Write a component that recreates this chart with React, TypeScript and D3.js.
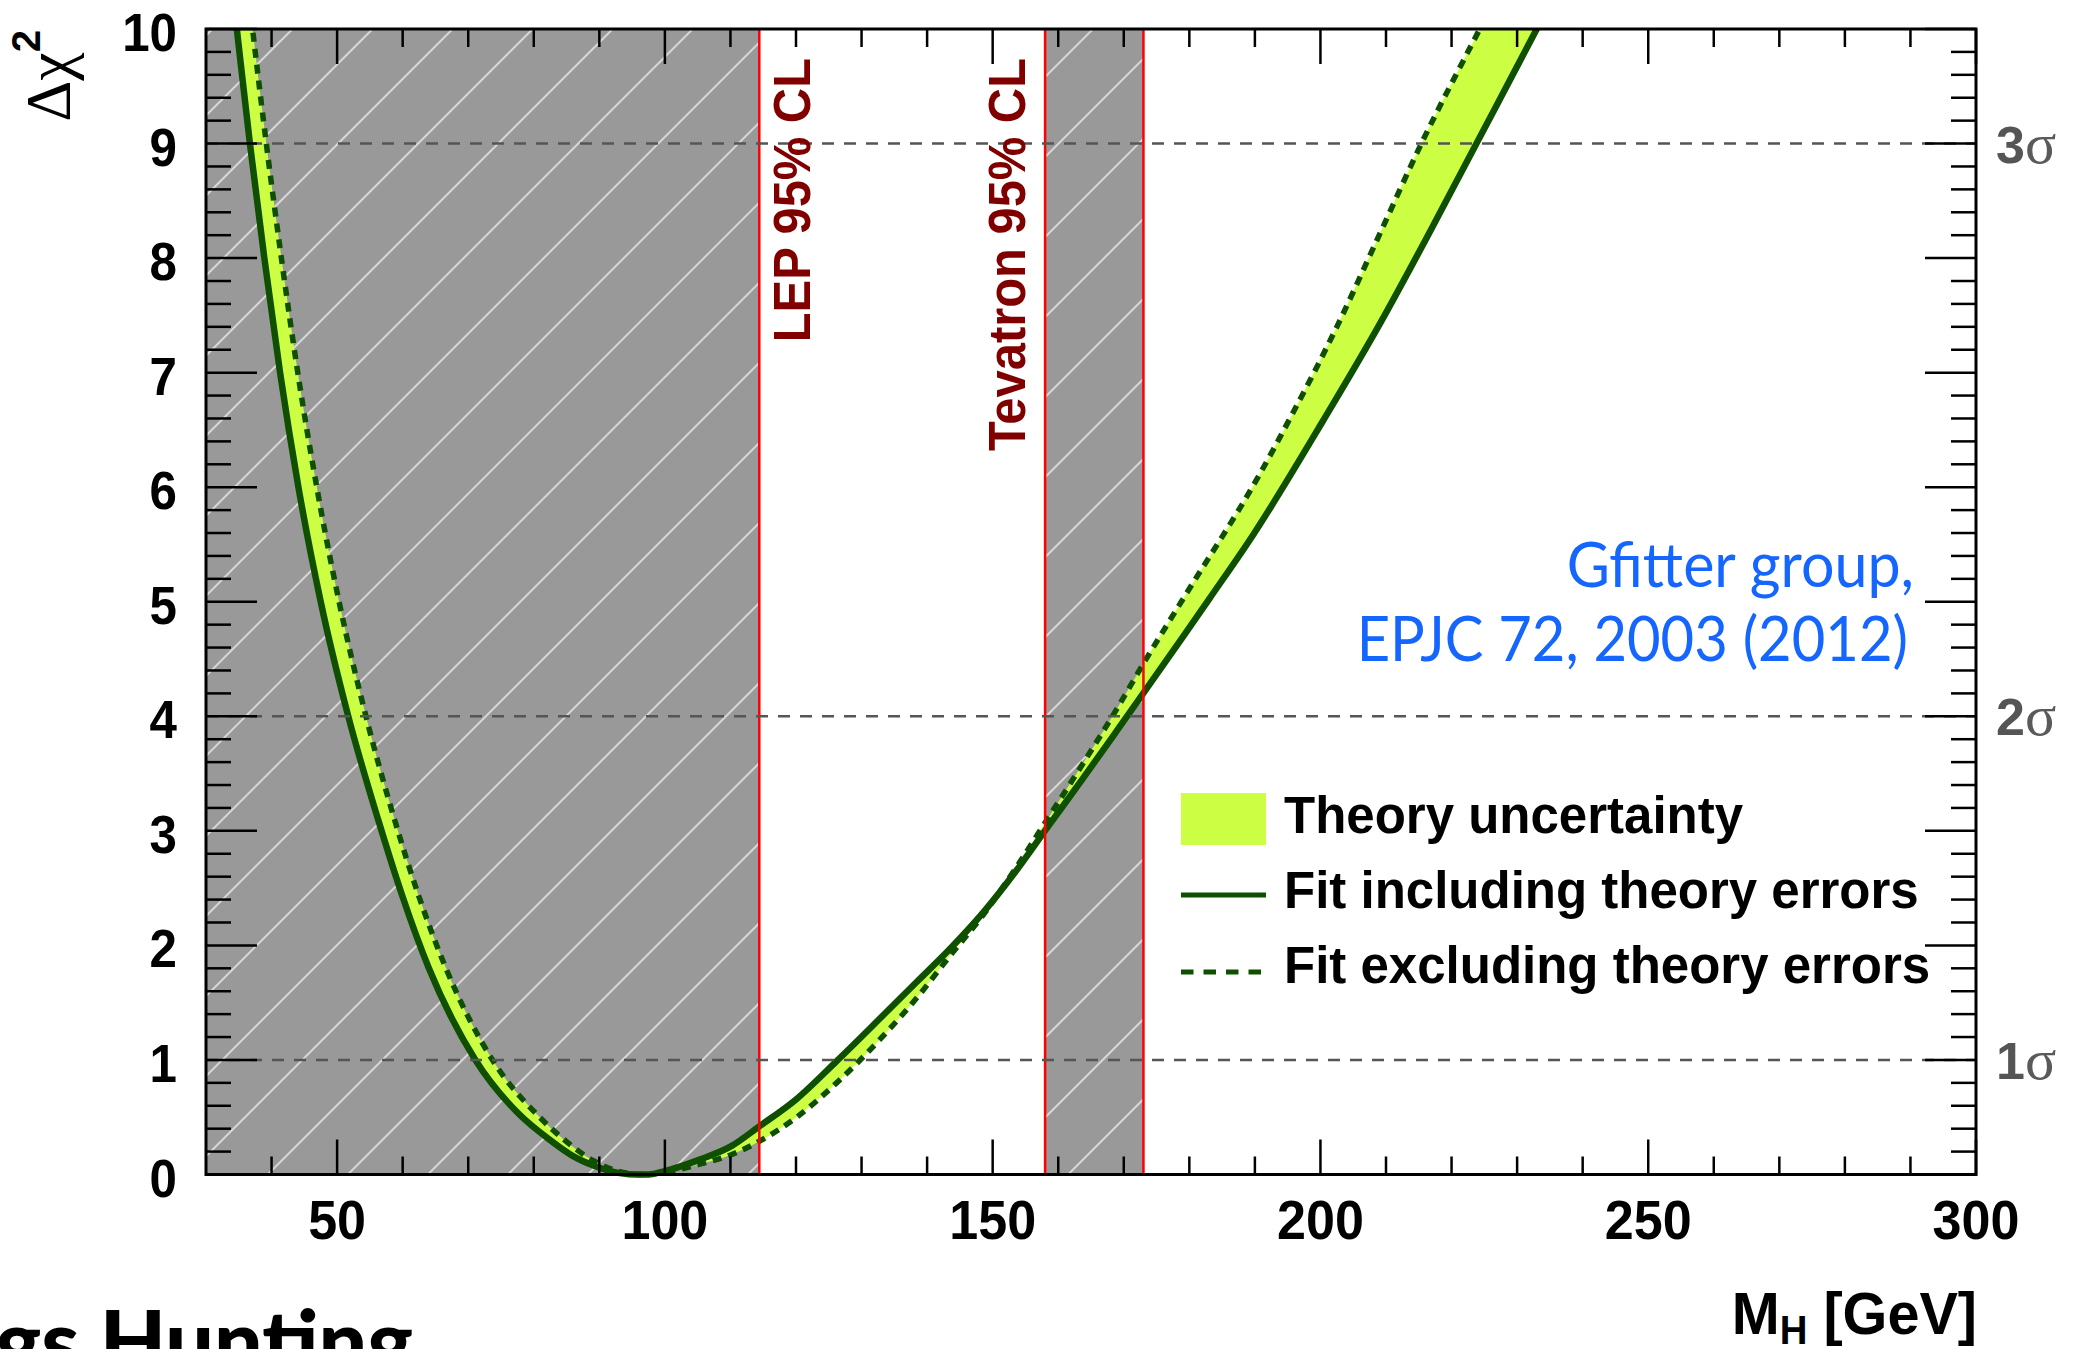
import React from 'react';
import * as d3 from 'd3';

const W = 2074;
const H = 1349;
const PLOT = { left: 206, right: 1976, top: 29, bottom: 1174.5 };

const massDomain: [number, number] = [30, 300];
const chi2Domain: [number, number] = [0, 10];
const xMajorTicks = [50, 100, 150, 200, 250, 300];
const xMinorStep = 10;
const yMajorTicks = [0, 1, 2, 3, 4, 5, 6, 7, 8, 9, 10];
const yMinorStep = 0.2;
const sigmaChi2 = [1, 4, 9];
const sigmaLabels = ['1', '2', '3'];
const lepLimit = 114.4;
const tevatronExcl: [number, number] = [158, 173];

// Fit including theory errors (solid)
const fitInclMH = [33.0, 34.7, 36.7, 38.9, 41.3, 44.1, 47.5, 51.7, 56.3, 59.9, 64.0, 71.1, 77.7, 82.5, 86.0, 89.0, 92.0, 94.5, 97.5, 100.0, 105.3, 110.2, 114.4, 120.1, 126.2, 133.3, 138.4, 143.5, 148.6, 153.7, 158.1, 163.8, 168.9, 173.1, 179.1, 183.1, 189.8, 200.4, 209.1, 216.7, 223.8, 233.0, 236.0];
const fitInclChi2 = [10.85, 10, 9, 8, 7, 6, 5, 4, 3.09, 2.44, 1.80, 1.0, 0.53, 0.30, 0.16, 0.08, 0.025, 0.003, 0.0, 0.03, 0.13, 0.25, 0.42, 0.66, 0.99, 1.39, 1.68, 1.97, 2.29, 2.66, 3.01, 3.46, 3.87, 4.21, 4.70, 5.03, 5.59, 6.58, 7.43, 8.23, 9.0, 10.0, 10.33];

// Fit excluding theory errors (dotted)
const fitExclMH = [35.5, 37.1, 39.2, 41.5, 44.0, 46.9, 50.3, 54.4, 58.8, 62.4, 66.6, 73.7, 80.9, 84.5, 89.1, 92.5, 96.5, 100.1, 105.3, 110.2, 114.4, 120.1, 126.2, 133.3, 138.4, 143.5, 148.6, 153.7, 158.1, 163.8, 168.9, 173.1, 179.1, 190.8, 195.35, 202.5, 208.8, 215.4, 224.3, 227.0];
const fitExclChi2 = [10.8, 10, 9, 8, 7, 6, 5, 4, 3.09, 2.44, 1.80, 1.0, 0.50, 0.31, 0.12, 0.035, 0.0, 0.02, 0.09, 0.175, 0.29, 0.50, 0.80, 1.21, 1.54, 1.91, 2.27, 2.69, 3.08, 3.59, 4.06, 4.47, 5.03, 6.12, 6.60, 7.40, 8.18, 9.0, 10.0, 10.3];

const legendLabels = ['Theory uncertainty', 'Fit including theory errors', 'Fit excluding theory errors'];
const creditLines = ['Gfitter group,', 'EPJC 72, 2003 (2012)'];

const SANS = '"Liberation Sans", Arial, Helvetica, sans-serif';
const SERIF = '"Liberation Serif", "Times New Roman", serif';
const HUMAN = 'Lato, "Open Sans", sans-serif';
const GREEN = '#0f4f00';
const LIME = '#ccff44';
const GREY = '#999999';
const DASH = '9,7';

export default function App() {
  const x = d3.scaleLinear().domain(massDomain).range([PLOT.left, PLOT.right]);
  const y = d3.scaleLinear().domain(chi2Domain).range([PLOT.bottom, PLOT.top]);

  const incl: [number, number][] = fitInclMH.map((m, i) => [m, fitInclChi2[i]]);
  const excl: [number, number][] = fitExclMH.map((m, i) => [m, fitExclChi2[i]]);

  const line = d3
    .line<[number, number]>()
    .x((d) => x(d[0]))
    .y((d) => y(d[1]))
    .curve(d3.curveMonotoneX);

  const inclPath = line(incl) || '';
  const exclPath = line(excl) || '';
  const exclRev = (line(excl.slice().reverse()) || '').replace(/^M/, 'L');
  const bandPath = inclPath + exclRev + 'Z';

  const xMinor = d3.range(massDomain[0] + xMinorStep, massDomain[1], xMinorStep).filter((v) => !xMajorTicks.includes(v));
  const yMinor = d3.range(0, 10.0001, yMinorStep).filter((v) => Math.abs(v - Math.round(v)) > 1e-6);

  const pw = PLOT.right - PLOT.left;
  const ph = PLOT.bottom - PLOT.top;

  const xMajLen = 35;
  const xMinLen = 18;
  const yMajLen = 51;
  const yMinLen = 25;

  const legX = 1181;
  const legW = 85;
  const legTextX = 1284;
  const legBase = [833, 908, 983];
  const hatchGap = 56.6;

  return (
    <svg
      width={W}
      height={H}
      style={{ position: 'absolute', left: 0, top: 0, background: '#fff' }}
      xmlns="http://www.w3.org/2000/svg"
    >
      <defs>
        <clipPath id="plotClip">
          <rect x={PLOT.left} y={PLOT.top} width={pw} height={ph + 4} />
        </clipPath>
        <pattern id="hatch" patternUnits="userSpaceOnUse" width={hatchGap} height={hatchGap} patternTransform="rotate(45)">
          <rect x={0} y={0} width={hatchGap} height={hatchGap} fill={GREY} />
          <line x1={1} y1={0} x2={1} y2={hatchGap} stroke="#d8d8d8" strokeWidth={2} />
        </pattern>
      </defs>

      {/* excluded regions */}
      <rect x={x(massDomain[0])} y={PLOT.top} width={x(lepLimit) - x(massDomain[0])} height={ph} fill="url(#hatch)" />
      <rect x={x(tevatronExcl[0])} y={PLOT.top} width={x(tevatronExcl[1]) - x(tevatronExcl[0])} height={ph} fill="url(#hatch)" />

      {/* band and curves */}
      <g clipPath="url(#plotClip)">
        <path d={bandPath} fill={LIME} stroke="none" />
        <path d={exclPath} fill="none" stroke={GREEN} strokeWidth={5.5} strokeDasharray={DASH} />
        <path d={inclPath} fill="none" stroke={GREEN} strokeWidth={6.5} />
      </g>

      {/* red limit lines */}
      {[lepLimit, tevatronExcl[0], tevatronExcl[1]].map((m, i) => (
        <line key={'r' + i} x1={x(m)} x2={x(m)} y1={PLOT.top} y2={PLOT.bottom} stroke="#ff0000" strokeWidth={2.5} />
      ))}

      {/* sigma dashed lines */}
      {sigmaChi2.map((c, i) => (
        <g key={'s' + i}>
          <line x1={PLOT.left} x2={PLOT.right} y1={y(c)} y2={y(c)} stroke="#555" strokeWidth={2.5} strokeDasharray="12,10" />
          <text x={1996} y={y(c) + 19} fill="#555">
            <tspan fontFamily={SANS} fontWeight="bold" fontSize={52}>{sigmaLabels[i]}</tspan>
            <tspan fontFamily={SERIF} fontSize={58} fill="#5a5a5a">σ</tspan>
          </text>
        </g>
      ))}

      {/* frame */}
      <rect x={PLOT.left} y={PLOT.top} width={pw} height={ph} fill="none" stroke="#000" strokeWidth={3} />

      {/* ticks */}
      <g stroke="#000" strokeWidth={2.5}>
        {xMajorTicks.map((v) => (
          <g key={'xm' + v}>
            <line x1={x(v)} x2={x(v)} y1={PLOT.bottom} y2={PLOT.bottom - xMajLen} />
            <line x1={x(v)} x2={x(v)} y1={PLOT.top} y2={PLOT.top + xMajLen} />
          </g>
        ))}
        {xMinor.map((v) => (
          <g key={'xn' + v}>
            <line x1={x(v)} x2={x(v)} y1={PLOT.bottom} y2={PLOT.bottom - xMinLen} />
            <line x1={x(v)} x2={x(v)} y1={PLOT.top} y2={PLOT.top + xMinLen} />
          </g>
        ))}
        {yMajorTicks.map((v) => (
          <g key={'ym' + v}>
            <line x1={PLOT.left} x2={PLOT.left + yMajLen} y1={y(v)} y2={y(v)} />
            <line x1={PLOT.right} x2={PLOT.right - yMajLen} y1={y(v)} y2={y(v)} />
          </g>
        ))}
        {yMinor.map((v, i) => (
          <g key={'yn' + i}>
            <line x1={PLOT.left} x2={PLOT.left + yMinLen} y1={y(v)} y2={y(v)} />
            <line x1={PLOT.right} x2={PLOT.right - yMinLen} y1={y(v)} y2={y(v)} />
          </g>
        ))}
      </g>

      {/* tick labels */}
      {yMajorTicks.map((v) => (
        <text
          key={'yl' + v}
          transform={`translate(177,${y(v) + 22}) scale(0.93,1)`}
          textAnchor="end"
          fontFamily={SANS}
          fontWeight="bold"
          fontSize={53}
          fill="#000"
        >
          {v}
        </text>
      ))}
      {xMajorTicks.map((v) => (
        <text
          key={'xl' + v}
          transform={`translate(${x(v)},1239) scale(0.93,1)`}
          textAnchor="middle"
          fontFamily={SANS}
          fontWeight="bold"
          fontSize={56}
          fill="#000"
        >
          {v}
        </text>
      ))}

      {/* axis titles */}
      <text transform="translate(1977,1334) scale(0.96,1)" textAnchor="end" fontFamily={SANS} fontWeight="bold" fontSize={60} fill="#000">
        M
        <tspan fontSize={40} dy={10}>H</tspan>
        <tspan dy={-10}> [GeV]</tspan>
      </text>
      <text transform="translate(70,30) rotate(-90)" textAnchor="end" fill="#000">
        <tspan fontFamily={SERIF} fontSize={64}>Δχ</tspan>
        <tspan fontFamily={SANS} fontWeight="bold" fontSize={40} dy={-30}>2</tspan>
      </text>

      {/* limit labels */}
      <text transform="translate(810,58) rotate(-90) scale(0.94,1)" textAnchor="end" fontFamily={SANS} fontWeight="bold" fontSize={52} fill="#800000">
        LEP 95% CL
      </text>
      <text transform="translate(1025,58) rotate(-90) scale(0.94,1)" textAnchor="end" fontFamily={SANS} fontWeight="bold" fontSize={52} fill="#800000">
        Tevatron 95% CL
      </text>

      {/* credit */}
      <text transform="translate(1914,587) scale(0.97,1)" textAnchor="end" fontFamily={HUMAN} fontSize={61} fill="#1565ff">
        {creditLines[0]}
      </text>
      <text transform="translate(1908,661) scale(0.95,1)" textAnchor="end" fontFamily={HUMAN} fontSize={61} fill="#1565ff">
        {creditLines[1]}
      </text>

      {/* legend */}
      <rect x={legX} y={793} width={legW} height={52} fill={LIME} />
      <line x1={legX} x2={legX + legW} y1={895} y2={895} stroke={GREEN} strokeWidth={5} />
      <line x1={legX} x2={legX + legW} y1={972} y2={972} stroke={GREEN} strokeWidth={5} strokeDasharray="12.5,10" />
      {legendLabels.map((t, i) => (
        <text key={'lg' + i} x={legTextX} y={legBase[i]} fontFamily={SANS} fontWeight="bold" fontSize={51} fill="#000">
          {t}
        </text>
      ))}

      {/* cut-off title at the bottom */}
      <text x={413} y={1372} textAnchor="end" fontFamily={HUMAN} fontWeight={900} fontSize={86} fill="#000">
        Higgs Hunting
      </text>
    </svg>
  );
}
